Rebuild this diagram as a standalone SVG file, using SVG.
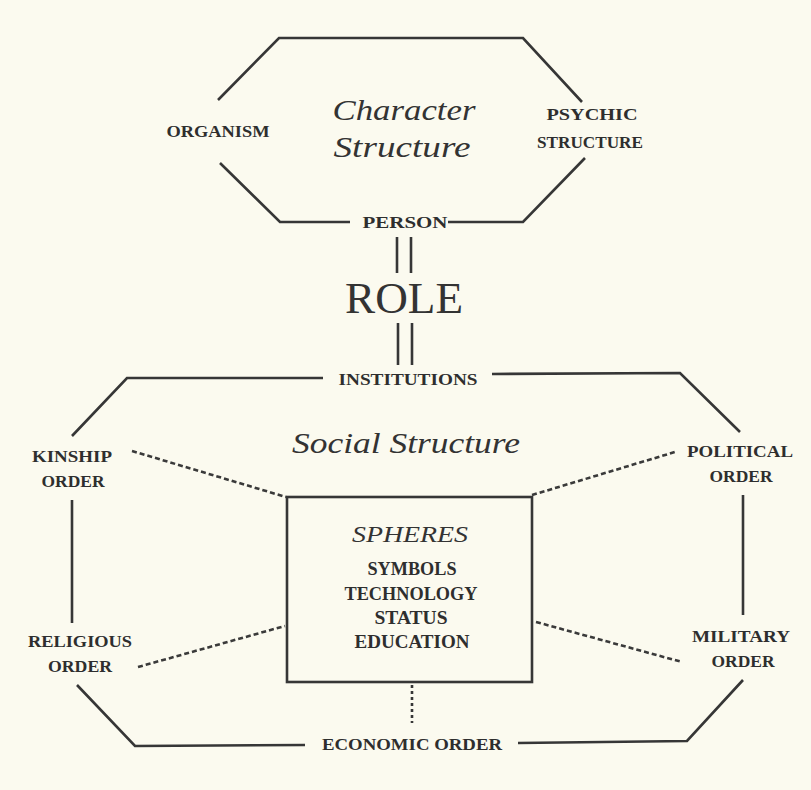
<svg xmlns="http://www.w3.org/2000/svg" width="811" height="790" viewBox="0 0 811 790">
  <style>
    .ln { fill: none; stroke: #363636; stroke-width: 2.6; stroke-linejoin: miter; stroke-linecap: butt; }
    .dash { fill: none; stroke: #3a3a3a; stroke-width: 2.6; stroke-dasharray: 5 3; }
    .cap { font-family: "Liberation Serif", "Times New Roman", serif; font-weight: bold; font-size: 17.5px; fill: #2e2e2e; text-anchor: middle; }
    .it { font-family: "Liberation Serif", "Times New Roman", serif; font-style: italic; fill: #333; text-anchor: middle; }
    .box-cap { font-family: "Liberation Serif", "Times New Roman", serif; font-weight: bold; font-size: 18.5px; fill: #2e2e2e; text-anchor: middle; }
  </style>

  <rect width="811" height="790" fill="#fbfaef"/>

  <!-- connectors -->
  <g id="connectors">
    <!-- character structure octagon -->
    <polyline class="ln" points="218,100 279,38 523,38 582,102"/>
    <polyline class="ln" points="220,163 280,222 350,222"/>
    <polyline class="ln" points="448,222 523,222 585,158"/>
    <!-- role links -->
    <line class="ln" x1="397" y1="237" x2="397" y2="273"/>
    <line class="ln" x1="411" y1="237" x2="411" y2="273"/>
    <line class="ln" x1="398" y1="323" x2="398" y2="365"/>
    <line class="ln" x1="412" y1="323" x2="412" y2="365"/>
    <!-- social structure outline -->
    <polyline class="ln" points="72,436 127,378 323,378"/>
    <polyline class="ln" points="492,374 680,373 740,432"/>
    <line class="ln" x1="72" y1="500" x2="72" y2="623"/>
    <line class="ln" x1="743" y1="495" x2="743" y2="615"/>
    <polyline class="ln" points="77,685 135,746 305,745"/>
    <polyline class="ln" points="518,743 687,741 743,680"/>
    <!-- dashed links to spheres -->
    <line class="dash" x1="132" y1="451" x2="286" y2="497"/>
    <line class="dash" x1="532" y1="495" x2="675" y2="452"/>
    <line class="dash" x1="138" y1="667" x2="285" y2="626"/>
    <line class="dash" x1="536" y1="622" x2="682" y2="662"/>
    <line class="ln" x1="412" y1="685" x2="412" y2="723" stroke-dasharray="3 3"/>
  </g>

  <g id="character-structure">
    <text class="it" x="404" y="120" font-size="29" textLength="143" lengthAdjust="spacingAndGlyphs">Character</text>
    <text class="it" x="402" y="157" font-size="29" textLength="137" lengthAdjust="spacingAndGlyphs">Structure</text>
  </g>

  <g id="organism">
    <text class="cap" x="218" y="137" textLength="103" lengthAdjust="spacingAndGlyphs">ORGANISM</text>
  </g>

  <g id="psychic-structure">
    <text class="cap" x="592" y="120" textLength="91" lengthAdjust="spacingAndGlyphs">PSYCHIC</text>
    <text class="cap" x="590" y="148" textLength="106" lengthAdjust="spacingAndGlyphs">STRUCTURE</text>
  </g>

  <g id="person">
    <text class="cap" x="405" y="228" textLength="85" lengthAdjust="spacingAndGlyphs">PERSON</text>
  </g>

  <g id="role">
    <text x="404" y="313" font-family="Liberation Serif, Times New Roman, serif" font-size="45" fill="#333" text-anchor="middle" textLength="118" lengthAdjust="spacingAndGlyphs">ROLE</text>
  </g>

  <g id="institutions">
    <text class="cap" x="408" y="385" font-size="18.5" textLength="139" lengthAdjust="spacingAndGlyphs">INSTITUTIONS</text>
  </g>

  <g id="social-structure">
    <text class="it" x="406" y="453" font-size="30" textLength="228" lengthAdjust="spacingAndGlyphs">Social Structure</text>
  </g>

  <g id="kinship-order">
    <text class="cap" x="72" y="462" textLength="80" lengthAdjust="spacingAndGlyphs">KINSHIP</text>
    <text class="cap" x="73" y="487" textLength="63" lengthAdjust="spacingAndGlyphs">ORDER</text>
  </g>

  <g id="political-order">
    <text class="cap" x="740" y="457" textLength="106" lengthAdjust="spacingAndGlyphs">POLITICAL</text>
    <text class="cap" x="741" y="482" textLength="63" lengthAdjust="spacingAndGlyphs">ORDER</text>
  </g>

  <g id="religious-order">
    <text class="cap" x="80" y="647" textLength="104" lengthAdjust="spacingAndGlyphs">RELIGIOUS</text>
    <text class="cap" x="80" y="672" textLength="64" lengthAdjust="spacingAndGlyphs">ORDER</text>
  </g>

  <g id="military-order">
    <text class="cap" x="741" y="642" textLength="98" lengthAdjust="spacingAndGlyphs">MILITARY</text>
    <text class="cap" x="743" y="667" textLength="63" lengthAdjust="spacingAndGlyphs">ORDER</text>
  </g>

  <g id="economic-order">
    <text class="cap" x="412" y="750" textLength="180" lengthAdjust="spacingAndGlyphs">ECONOMIC ORDER</text>
  </g>

  <g id="spheres">
    <rect x="287" y="497" width="245" height="185" fill="none" stroke="#363636" stroke-width="2.6"/>
    <text class="it" x="410" y="542" font-size="24" textLength="116" lengthAdjust="spacingAndGlyphs">SPHERES</text>
    <text class="box-cap" x="412" y="575" textLength="89" lengthAdjust="spacingAndGlyphs">SYMBOLS</text>
    <text class="box-cap" x="411" y="600" textLength="133" lengthAdjust="spacingAndGlyphs">TECHNOLOGY</text>
    <text class="box-cap" x="411" y="624" textLength="73" lengthAdjust="spacingAndGlyphs">STATUS</text>
    <text class="box-cap" x="412" y="648" textLength="115" lengthAdjust="spacingAndGlyphs">EDUCATION</text>
  </g>
</svg>
